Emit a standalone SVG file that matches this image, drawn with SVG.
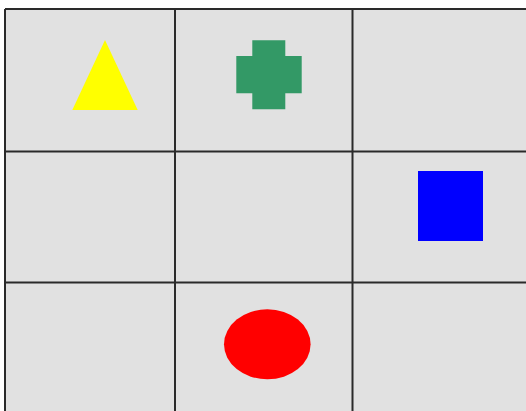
<svg xmlns="http://www.w3.org/2000/svg" width="526" height="411" viewBox="0 0 526 411">
<style>
.grid{stroke:#2a2a2a;stroke-width:2;fill:none}
</style>
<rect x="0" y="0" width="526" height="411" fill="#ffffff"/>
<rect x="5" y="9" width="521" height="402" fill="#e1e1e1"/>
<g id="grid-lines">
<line class="grid" x1="5" y1="9" x2="526" y2="9"/>
<line class="grid" x1="5" y1="9" x2="5" y2="411"/>
<line class="grid" x1="175" y1="9" x2="175" y2="411"/>
<line class="grid" x1="352.5" y1="9" x2="352.5" y2="411"/>
<line class="grid" x1="5" y1="151.5" x2="526" y2="151.5"/>
<line class="grid" x1="5" y1="282.5" x2="526" y2="282.5"/>
</g>
<g id="triangle"><polygon points="105,40 137.7,110 72.3,110" fill="#ffff00"/></g>
<g id="cross"><path d="M252.3,40.3 H285.3 V56 H301.7 V93.3 H285.3 V109.3 H252.3 V93.3 H236.3 V56 H252.3 Z" fill="#339966"/></g>
<g id="square"><rect x="418" y="171" width="65" height="70" fill="#0000ff"/></g>
<g id="ellipse"><ellipse cx="267.3" cy="344.3" rx="43.3" ry="35" fill="#ff0000"/></g>
</svg>
